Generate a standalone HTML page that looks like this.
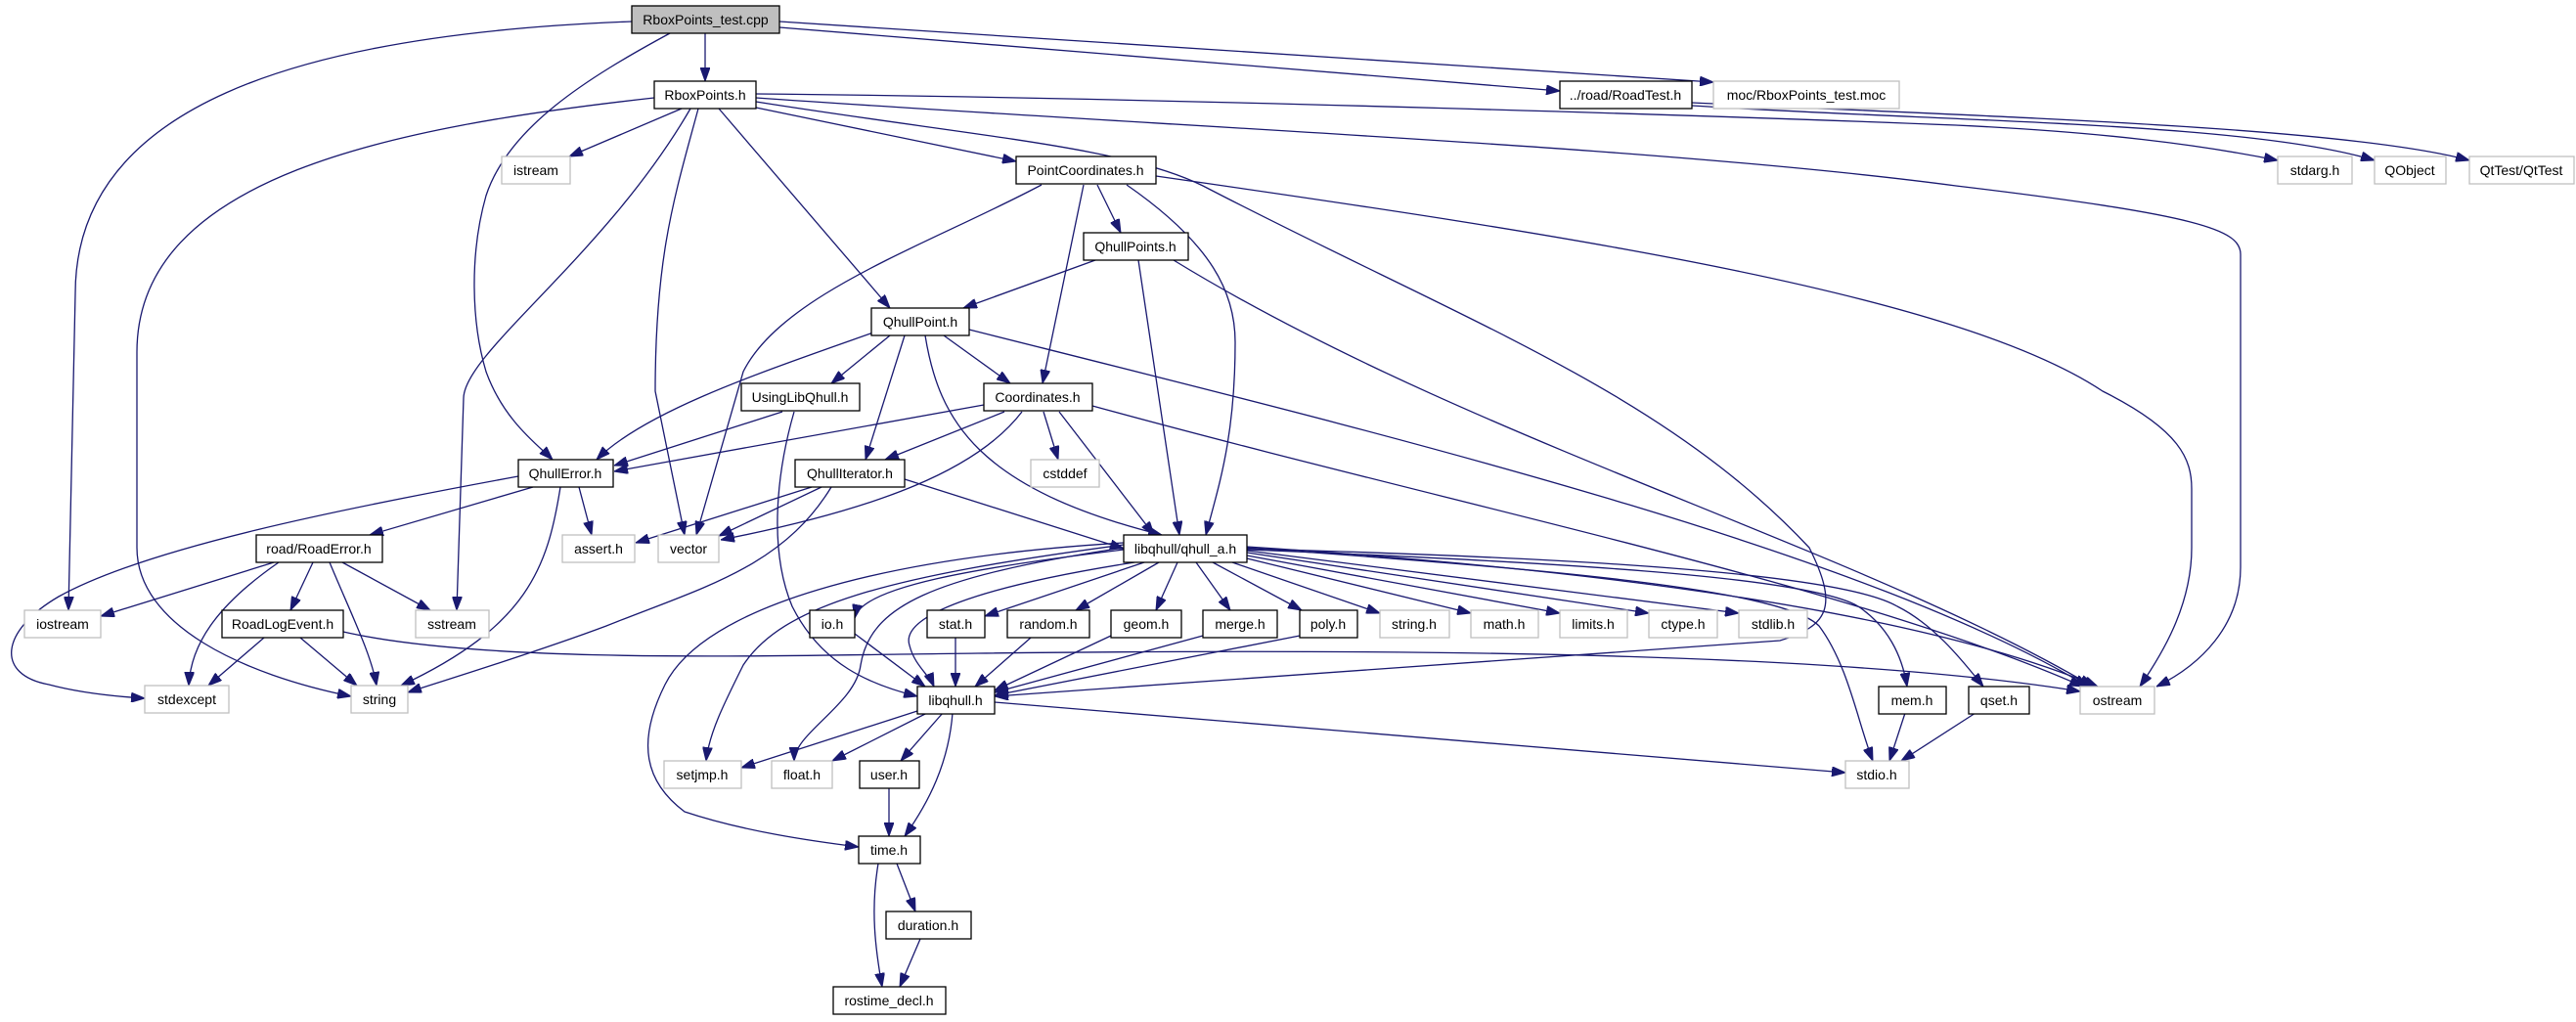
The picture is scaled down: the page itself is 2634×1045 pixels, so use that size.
<!DOCTYPE html>
<html><head><meta charset="utf-8"><style>
html,body{margin:0;padding:0;background:#fff;}
svg{display:block;}
text{font-family:"Liberation Sans",sans-serif;font-size:14px;text-anchor:middle;fill:#000;}
.e{fill:none;stroke:#191970;stroke-width:1.3;marker-end:url(#a);}
.n{fill:#fff;stroke:#000;stroke-width:1.3;}
.g{fill:#fff;stroke:#bfbfbf;stroke-width:1.3;}
.r{fill:#bfbfbf;stroke:#000;stroke-width:1.3;}
</style></head><body>
<svg width="2634" height="1045" viewBox="0 0 2634 1045" xmlns="http://www.w3.org/2000/svg">
<defs><marker id="a" viewBox="0 0 14 10" refX="14" refY="5" markerWidth="14" markerHeight="10" markerUnits="userSpaceOnUse" orient="auto"><path d="M0,0 L14,5 L0,10z" fill="#191970" stroke="#191970"/></marker></defs>
<g>
<path class="e" d="M646,22 C300,35 77,110 77,300 L70,624"/>
<path class="e" d="M685,34 C600,80 520,130 497,200 C480,260 482,330 497,380 C515,430 550,455 565,470"/>
<path class="e" d="M721,34 L721,83"/>
<path class="e" d="M797,28 L1595,93"/>
<path class="e" d="M797,22 L1752,84"/>
<path class="e" d="M697,111 L582,160"/>
<path class="e" d="M669,100 C400,130 140,180 140,360 L140,560 C140,640 250,690 359,712"/>
<path class="e" d="M706,111 C620,260 475,360 474,407 L467,624"/>
<path class="e" d="M714,111 C690,200 670,260 670,400 L700,547"/>
<path class="e" d="M735,111 L910,315"/>
<path class="e" d="M773,110 L1039,165"/>
<path class="e" d="M773,96 C1200,100 1800,120 2000,128 C2150,135 2250,148 2329,164"/>
<path class="e" d="M773,104 C1000,140 1150,150 1230,190 C1500,330 1700,400 1850,560 C1880,620 1870,640 1820,655 L1017,712"/>
<path class="e" d="M773,100 C1200,130 1700,150 2000,190 C2250,220 2291,235 2291,260 L2291,580 C2291,640 2250,680 2205,702"/>
<path class="e" d="M1730,108 C2000,125 2300,125 2428,164"/>
<path class="e" d="M1730,105 C2050,120 2400,130 2525,164"/>
<path class="e" d="M1065,189 C950,250 800,300 760,380 L712,547"/>
<path class="e" d="M1122,189 L1146,238"/>
<path class="e" d="M1108,189 L1066,392"/>
<path class="e" d="M1152,189 C1240,250 1263,300 1263,350 C1263,450 1245,500 1233,547"/>
<path class="e" d="M1182,180 C1600,240 2000,300 2150,400 C2230,440 2241,470 2241,500 L2241,560 C2241,620 2210,670 2188,702"/>
<path class="e" d="M1120,266 L985,315"/>
<path class="e" d="M1164,266 L1206,547"/>
<path class="e" d="M1200,266 C1500,450 1900,560 2140,702"/>
<path class="e" d="M893,340 C780,380 660,420 610,470"/>
<path class="e" d="M910,343 L850,392"/>
<path class="e" d="M925,343 L885,470"/>
<path class="e" d="M965,343 L1033,392"/>
<path class="e" d="M946,343 C960,430 1000,500 1188,547"/>
<path class="e" d="M991,337 C1400,440 1900,560 2135,702"/>
<path class="e" d="M800,421 L628,476"/>
<path class="e" d="M812,421 C795,480 785,560 810,620 C840,680 890,700 938,712"/>
<path class="e" d="M1006,414 L628,482"/>
<path class="e" d="M1027,421 L905,470"/>
<path class="e" d="M1045,421 C1000,480 900,520 737,552"/>
<path class="e" d="M1067,421 L1082,470"/>
<path class="e" d="M1083,421 L1180,547"/>
<path class="e" d="M1117,415 C1500,520 1900,600 2130,702"/>
<path class="e" d="M545,498 L378,547"/>
<path class="e" d="M592,498 L605,547"/>
<path class="e" d="M573,498 C560,580 540,640 410,701"/>
<path class="e" d="M530,487 C350,520 150,560 60,610 C0,645 -5,690 50,700 C80,708 115,712 148,714"/>
<path class="e" d="M830,498 L650,555"/>
<path class="e" d="M840,498 L735,548"/>
<path class="e" d="M850,498 C800,580 720,600 620,640 C540,670 440,700 417,708"/>
<path class="e" d="M925,490 L1149,561"/>
<path class="e" d="M280,575 L103,630"/>
<path class="e" d="M285,575 C220,620 195,660 193,701"/>
<path class="e" d="M320,575 L297,624"/>
<path class="e" d="M337,575 C360,630 380,670 385,701"/>
<path class="e" d="M350,575 L440,624"/>
<path class="e" d="M270,652 L213,701"/>
<path class="e" d="M307,652 L365,701"/>
<path class="e" d="M351,646 C500,680 800,670 1000,668 C1500,662 1900,670 2127,707"/>
<path class="e" d="M1149,562 C1000,580 880,600 874,632"/>
<path class="e" d="M1160,575 C1000,600 920,630 930,660 C935,680 950,690 955,702"/>
<path class="e" d="M1149,557 C900,590 800,620 760,680 C740,720 725,750 722,778"/>
<path class="e" d="M1149,560 C950,590 890,620 880,680 C875,720 812,750 812,778"/>
<path class="e" d="M1149,555 C900,570 720,620 680,700 C650,760 660,800 700,830 C760,850 830,860 878,866"/>
<path class="e" d="M1170,575 L1007,630"/>
<path class="e" d="M1185,575 L1100,624"/>
<path class="e" d="M1204,575 L1182,624"/>
<path class="e" d="M1223,575 L1258,624"/>
<path class="e" d="M1240,575 L1331,624"/>
<path class="e" d="M1260,575 L1411,627"/>
<path class="e" d="M1275,571 L1504,627"/>
<path class="e" d="M1275,568 L1595,627"/>
<path class="e" d="M1275,565 L1686,627"/>
<path class="e" d="M1275,563 L1778,627"/>
<path class="e" d="M1275,562 C1600,575 1850,590 1900,620 C1930,640 1945,670 1950,702"/>
<path class="e" d="M1275,561 C1600,570 1880,585 1940,620 C1980,640 2010,680 2028,702"/>
<path class="e" d="M1275,560 C1550,580 1820,600 1860,640 C1890,680 1900,740 1915,778"/>
<path class="e" d="M1275,559 C1600,580 1950,620 2145,702"/>
<path class="e" d="M874,648 L946,702"/>
<path class="e" d="M977,652 L977,702"/>
<path class="e" d="M1054,652 L997,702"/>
<path class="e" d="M1136,650 L1017,706"/>
<path class="e" d="M1230,650 L1017,708"/>
<path class="e" d="M1329,650 L1017,711"/>
<path class="e" d="M938,727 L758,785"/>
<path class="e" d="M948,729 L851,778"/>
<path class="e" d="M964,729 L921,778"/>
<path class="e" d="M974,729 C970,780 950,820 925,855"/>
<path class="e" d="M1017,718 L1887,790"/>
<path class="e" d="M909,806 L909,855"/>
<path class="e" d="M917,883 L936,932"/>
<path class="e" d="M898,883 C890,930 895,970 902,1009"/>
<path class="e" d="M941,960 L920,1009"/>
<path class="e" d="M1948,729 L1932,778"/>
<path class="e" d="M2020,729 L1944,778"/>
</g>
<g>
<rect class="r" x="646" y="6" width="151" height="28"/><text x="721.5" y="25">RboxPoints_test.cpp</text>
<rect class="n" x="669" y="83" width="104" height="28"/><text x="721" y="102">RboxPoints.h</text>
<rect class="n" x="1595" y="83" width="135" height="28"/><text x="1662" y="102">../road/RoadTest.h</text>
<rect class="g" x="1752" y="83" width="190" height="28"/><text x="1847" y="102">moc/RboxPoints_test.moc</text>
<rect class="g" x="513" y="160" width="70" height="28"/><text x="548" y="179">istream</text>
<rect class="n" x="1039" y="160" width="143" height="28"/><text x="1110" y="179">PointCoordinates.h</text>
<rect class="g" x="2329" y="160" width="76" height="28"/><text x="2367" y="179">stdarg.h</text>
<rect class="g" x="2428" y="160" width="73" height="28"/><text x="2464" y="179">QObject</text>
<rect class="g" x="2525" y="160" width="107" height="28"/><text x="2578" y="179">QtTest/QtTest</text>
<rect class="n" x="1108" y="238" width="107" height="28"/><text x="1161" y="257">QhullPoints.h</text>
<rect class="n" x="891" y="315" width="100" height="28"/><text x="941" y="334">QhullPoint.h</text>
<rect class="n" x="758" y="392" width="121" height="28"/><text x="818" y="411">UsingLibQhull.h</text>
<rect class="n" x="1006" y="392" width="111" height="28"/><text x="1061" y="411">Coordinates.h</text>
<rect class="n" x="530" y="470" width="97" height="28"/><text x="578" y="489">QhullError.h</text>
<rect class="n" x="813" y="470" width="112" height="28"/><text x="869" y="489">QhullIterator.h</text>
<rect class="g" x="1054" y="470" width="70" height="28"/><text x="1089" y="489">cstddef</text>
<rect class="n" x="262" y="547" width="129" height="28"/><text x="326" y="566">road/RoadError.h</text>
<rect class="g" x="575" y="547" width="74" height="28"/><text x="612" y="566">assert.h</text>
<rect class="g" x="673" y="547" width="62" height="28"/><text x="704" y="566">vector</text>
<rect class="n" x="1149" y="547" width="126" height="28"/><text x="1212" y="566">libqhull/qhull_a.h</text>
<rect class="g" x="25" y="624" width="78" height="28"/><text x="64" y="643">iostream</text>
<rect class="n" x="227" y="624" width="124" height="28"/><text x="289" y="643">RoadLogEvent.h</text>
<rect class="g" x="425" y="624" width="75" height="28"/><text x="462" y="643">sstream</text>
<rect class="n" x="828" y="624" width="46" height="28"/><text x="851" y="643">io.h</text>
<rect class="n" x="948" y="624" width="59" height="28"/><text x="977" y="643">stat.h</text>
<rect class="n" x="1030" y="624" width="84" height="28"/><text x="1072" y="643">random.h</text>
<rect class="n" x="1136" y="624" width="72" height="28"/><text x="1172" y="643">geom.h</text>
<rect class="n" x="1230" y="624" width="76" height="28"/><text x="1268" y="643">merge.h</text>
<rect class="n" x="1329" y="624" width="59" height="28"/><text x="1358" y="643">poly.h</text>
<rect class="g" x="1411" y="624" width="71" height="28"/><text x="1446" y="643">string.h</text>
<rect class="g" x="1504" y="624" width="69" height="28"/><text x="1538" y="643">math.h</text>
<rect class="g" x="1595" y="624" width="69" height="28"/><text x="1629" y="643">limits.h</text>
<rect class="g" x="1686" y="624" width="70" height="28"/><text x="1721" y="643">ctype.h</text>
<rect class="g" x="1778" y="624" width="70" height="28"/><text x="1813" y="643">stdlib.h</text>
<rect class="g" x="148" y="701" width="86" height="28"/><text x="191" y="720">stdexcept</text>
<rect class="g" x="359" y="701" width="58" height="28"/><text x="388" y="720">string</text>
<rect class="n" x="938" y="702" width="79" height="28"/><text x="977" y="721">libqhull.h</text>
<rect class="n" x="1921" y="702" width="69" height="28"/><text x="1955" y="721">mem.h</text>
<rect class="n" x="2013" y="702" width="62" height="28"/><text x="2044" y="721">qset.h</text>
<rect class="g" x="2127" y="702" width="76" height="28"/><text x="2165" y="721">ostream</text>
<rect class="g" x="679" y="778" width="79" height="28"/><text x="718" y="797">setjmp.h</text>
<rect class="g" x="789" y="778" width="62" height="28"/><text x="820" y="797">float.h</text>
<rect class="n" x="879" y="778" width="61" height="28"/><text x="909" y="797">user.h</text>
<rect class="g" x="1887" y="778" width="65" height="28"/><text x="1919" y="797">stdio.h</text>
<rect class="n" x="878" y="855" width="63" height="28"/><text x="909" y="874">time.h</text>
<rect class="n" x="906" y="932" width="87" height="28"/><text x="949" y="951">duration.h</text>
<rect class="n" x="852" y="1009" width="115" height="28"/><text x="909" y="1028">rostime_decl.h</text>
</g>
</svg>
</body></html>
